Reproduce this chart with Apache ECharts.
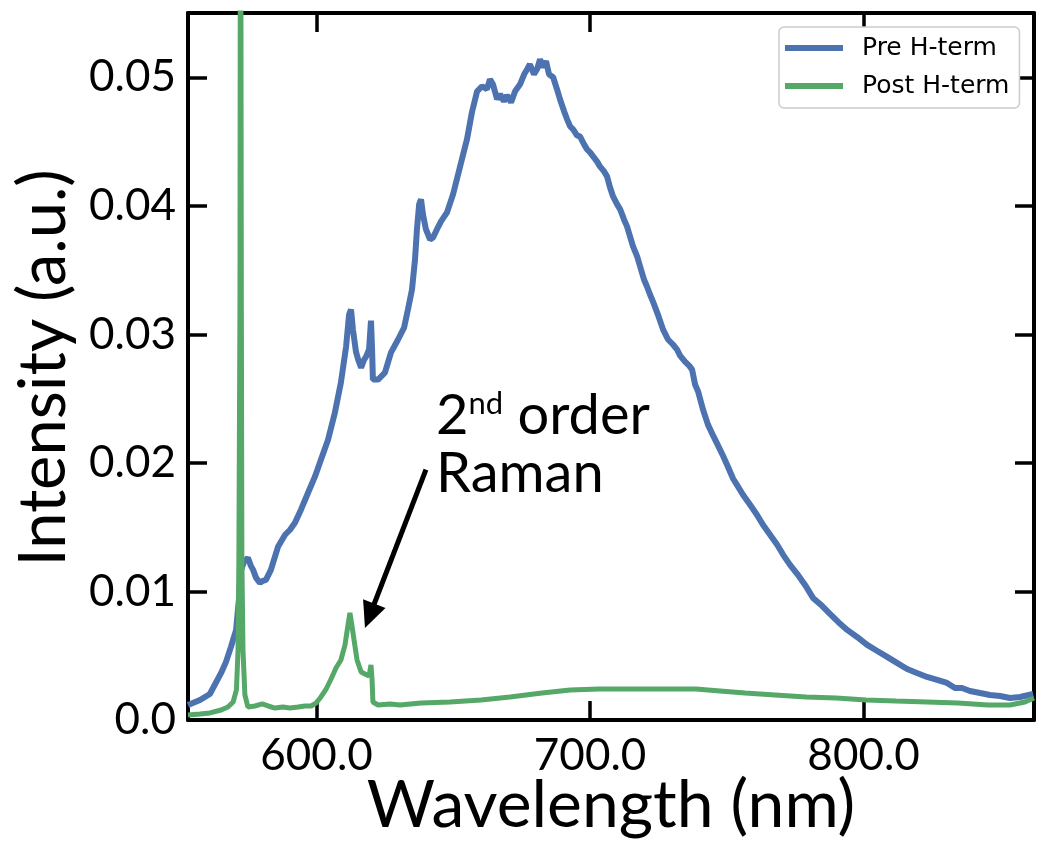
<!DOCTYPE html>
<html>
<head>
<meta charset="utf-8">
<script src="https://cdn.jsdelivr.net/npm/echarts@6/dist/echarts.min.js"></script>
<style>html,body{margin:0;padding:0;background:#fff}#c{width:1038px;height:844px}</style>
</head>
<body>
<div id="c"></div>
<script>
// ---- data ----
const seriesNames = ['Pre H-term', 'Post H-term'];
const xTicks = [600, 700, 800];
const yTicks = [0, 0.01, 0.02, 0.03, 0.04, 0.05];

const preWavelength = [553.0,557.4,561.0,565.1,566.9,568.7,570.6,571.6,572.4,573.5,574.9,576.0,576.8,577.9,579.3,580.4,581.5,583.3,585.9,588.5,590.3,592.1,594.3,596.9,599.4,601.6,604.2,606.7,608.9,610.8,611.9,612.6,613.3,614.4,615.2,616.3,617.4,618.1,619.2,619.9,620.3,620.6,622.5,625.0,627.2,629.8,632.0,633.4,634.9,636.0,636.7,637.5,638.2,638.9,640.0,641.5,642.6,644.0,645.5,647.7,649.9,652.5,655.0,656.8,658.7,660.5,662.3,663.4,664.5,666.0,667.1,668.5,669.6,671.1,672.6,674.4,675.9,677.0,678.0,679.5,680.6,681.7,682.8,683.9,685.0,686.5,687.9,689.0,690.5,691.6,692.7,693.8,695.2,696.3,697.8,698.9,700.0,701.1,702.5,703.6,705.1,706.2,707.3,708.4,709.9,711.0,712.4,713.5,714.6,715.7,717.2,718.3,719.7,720.8,721.9,723.0,724.8,726.7,728.5,730.3,731.8,732.9,734.7,736.2,737.3,738.4,739.5,741.3,743.1,745.0,746.8,748.6,750.4,752.3,754.1,755.9,758.5,761.0,763.2,765.8,768.4,770.6,773.1,775.7,778.6,781.5,784.8,787.7,790.7,794.0,797.6,801.3,805.0,808.6,812.2,815.9,819.5,823.2,826.9,830.5,833.4,836.0,838.9,842.6,846.2,849.9,853.5,857.2,862.0];
const preIntensity = [0.00117,0.00156,0.00202,0.00366,0.00452,0.00569,0.00701,0.00935,0.01168,0.01231,0.01262,0.01199,0.01168,0.01106,0.01067,0.01083,0.01090,0.01168,0.01347,0.01441,0.01480,0.01534,0.01636,0.01768,0.01893,0.02025,0.02181,0.02391,0.02625,0.02905,0.03154,0.03193,0.03037,0.02866,0.02804,0.02741,0.02804,0.02827,0.02882,0.03107,0.02882,0.02648,0.02648,0.02702,0.02858,0.02960,0.03053,0.03193,0.03349,0.03583,0.03816,0.04011,0.04050,0.03933,0.03816,0.03738,0.03754,0.03816,0.03879,0.03949,0.04089,0.04307,0.04517,0.04727,0.04891,0.04930,0.04907,0.04984,0.04945,0.04829,0.04868,0.04813,0.04860,0.04805,0.04891,0.04945,0.05023,0.05062,0.05101,0.05023,0.05062,0.05140,0.05078,0.05125,0.05023,0.05000,0.04907,0.04829,0.04735,0.04673,0.04618,0.04595,0.04548,0.04540,0.04478,0.04439,0.04416,0.04385,0.04346,0.04307,0.04268,0.04229,0.04143,0.04073,0.04011,0.03972,0.03894,0.03840,0.03762,0.03684,0.03606,0.03528,0.03427,0.03372,0.03310,0.03255,0.03154,0.03037,0.02960,0.02921,0.02882,0.02835,0.02788,0.02757,0.02726,0.02609,0.02555,0.02414,0.02298,0.02212,0.02134,0.02056,0.01970,0.01877,0.01815,0.01752,0.01674,0.01597,0.01519,0.01441,0.01363,0.01285,0.01207,0.01137,0.01051,0.00950,0.00888,0.00826,0.00763,0.00701,0.00646,0.00584,0.00537,0.00491,0.00444,0.00397,0.00366,0.00335,0.00312,0.00288,0.00249,0.00249,0.00226,0.00210,0.00195,0.00187,0.00171,0.00179,0.00202];

const postWavelength = [553.0,557.4,561.0,565.1,567.6,569.5,570.7,571.3,571.6,572.0,572.2,572.5,572.7,573.1,573.8,574.9,577.5,580.1,582.3,584.8,587.7,590.3,593.2,595.8,598.0,599.8,601.6,603.5,605.3,607.1,608.9,610.4,611.5,612.2,612.9,613.7,614.8,616.3,617.7,619.2,619.9,620.3,620.6,622.5,626.9,630.5,638.2,648.8,660.1,670.7,682.4,692.7,703.3,712.8,722.3,731.1,738.7,747.5,756.7,767.6,779.0,790.0,800.9,811.9,823.2,834.5,845.5,853.5,859.0,862.3];
const postIntensity = [0.00039,0.00047,0.00055,0.00078,0.00101,0.00140,0.00234,0.00545,0.01246,0.0327,0.0800,0.0327,0.01246,0.00545,0.00195,0.00101,0.00109,0.00125,0.00109,0.00093,0.00101,0.00093,0.00101,0.00109,0.00109,0.00132,0.00179,0.00241,0.00319,0.00405,0.00467,0.00584,0.00740,0.00833,0.00740,0.00623,0.00467,0.00374,0.00358,0.00343,0.00428,0.00312,0.00140,0.00117,0.00125,0.00117,0.00132,0.00140,0.00156,0.00179,0.00210,0.00234,0.00241,0.00241,0.00241,0.00241,0.00241,0.00226,0.00210,0.00195,0.00179,0.00171,0.00156,0.00148,0.00140,0.00132,0.00117,0.00117,0.00140,0.00171];

// annotation arrow (data units): tail and head position
const arrowTail = [640.0, 0.01947];
const arrowHead = [619.4, 0.00811];

const xMin = 553.0, xMax = 862.3, yMin = 0, yMax = 0.055;

// ---- chart ----
const prePairs = preWavelength.map((x, i) => [x, preIntensity[i]]);
const postPairs = postWavelength.map((x, i) => [x, postIntensity[i]]);

const chart = echarts.init(document.getElementById('c'), null, {renderer: 'canvas'});
const axisLine = {show: true, onZero: false, lineStyle: {color: '#000', width: 4}};
const tick = (vals) => ({show: true, inside: true, length: 19, customValues: vals, lineStyle: {color: '#000', width: 3.5}});
const labelFont = {fontFamily: 'Lato', fontSize: 44, color: '#000'};

chart.setOption({
  animation: false,
  backgroundColor: '#fff',
  grid: {left: 188, right: 4, top: 13, bottom: 124, containLabel: false},
  legend: {
    orient: 'vertical', left: 779, top: 27,
    data: seriesNames,
    icon: 'rect', itemWidth: 58, itemHeight: 6, itemGap: 8,
    backgroundColor: '#fff', borderColor: '#cccccc', borderWidth: 1.5, borderRadius: 5,
    padding: [6, 10, 7, 6],
    textStyle: {fontFamily: 'DejaVu Sans', fontSize: 25, lineHeight: 30, color: '#000', padding: [0, 0, 0, 14]}
  },
  xAxis: [{
    type: 'value', min: xMin, max: xMax, position: 'bottom',
    axisLine: axisLine, splitLine: {show: false},
    axisTick: tick(xTicks),
    axisLabel: Object.assign({show: true, margin: 14, customValues: xTicks, formatter: v => v.toFixed(1)}, labelFont)
  }, {
    type: 'value', min: xMin, max: xMax, position: 'top',
    axisLine: axisLine, splitLine: {show: false},
    axisTick: tick(xTicks), axisLabel: {show: false}
  }],
  yAxis: [{
    type: 'value', min: yMin, max: yMax, position: 'left',
    axisLine: axisLine, splitLine: {show: false},
    axisTick: tick(yTicks),
    axisLabel: Object.assign({show: true, margin: 12, customValues: yTicks, formatter: v => v === 0 ? '0.0' : v.toFixed(2)}, labelFont)
  }, {
    type: 'value', min: yMin, max: yMax, position: 'right',
    axisLine: axisLine, splitLine: {show: false},
    axisTick: tick(yTicks), axisLabel: {show: false}
  }],
  series: [{
    name: seriesNames[0], type: 'line', data: prePairs, showSymbol: false, symbol: 'none',
    lineStyle: {color: '#4c72b0', width: 6}, itemStyle: {color: '#4c72b0'}, clip: true, z: 2
  }, {
    name: seriesNames[1], type: 'line', data: postPairs, showSymbol: false, symbol: 'none',
    lineStyle: {color: '#55a868', width: 5}, itemStyle: {color: '#55a868'}, clip: true, z: 3,
    markLine: {
      silent: true, animation: false,
      symbol: ['none', 'triangle'], symbolSize: [24, 26],
      lineStyle: {color: '#000', width: 5, type: 'solid'},
      label: {show: false},
      data: [[{coord: arrowTail}, {coord: arrowHead}]]
    }
  }],
  graphic: [
    {type: 'text', x: 44, y: 368, rotation: Math.PI / 2,
      style: {text: 'Intensity (a.u.)', fontFamily: 'Lato', fontSize: 65, fill: '#000', align: 'center', verticalAlign: 'middle'}},
    {type: 'text', x: 611, y: 806,
      style: {text: 'Wavelength (nm)', fontFamily: 'Lato', fontSize: 66, fill: '#000', align: 'center', verticalAlign: 'middle'}},
    {type: 'text', x: 436, y: 387,
      style: {text: '{a|2}{b|nd}{a| order}\n{a|Raman}', fill: '#000',
        rich: {
          a: {fontFamily: 'Lato', fontSize: 56, lineHeight: 58, fill: '#000'},
          b: {fontFamily: 'Lato', fontSize: 31, lineHeight: 58, fill: '#000', padding: [0, 0, 24, 0]}
        }}}
  ]
});
</script>
</body>
</html>
